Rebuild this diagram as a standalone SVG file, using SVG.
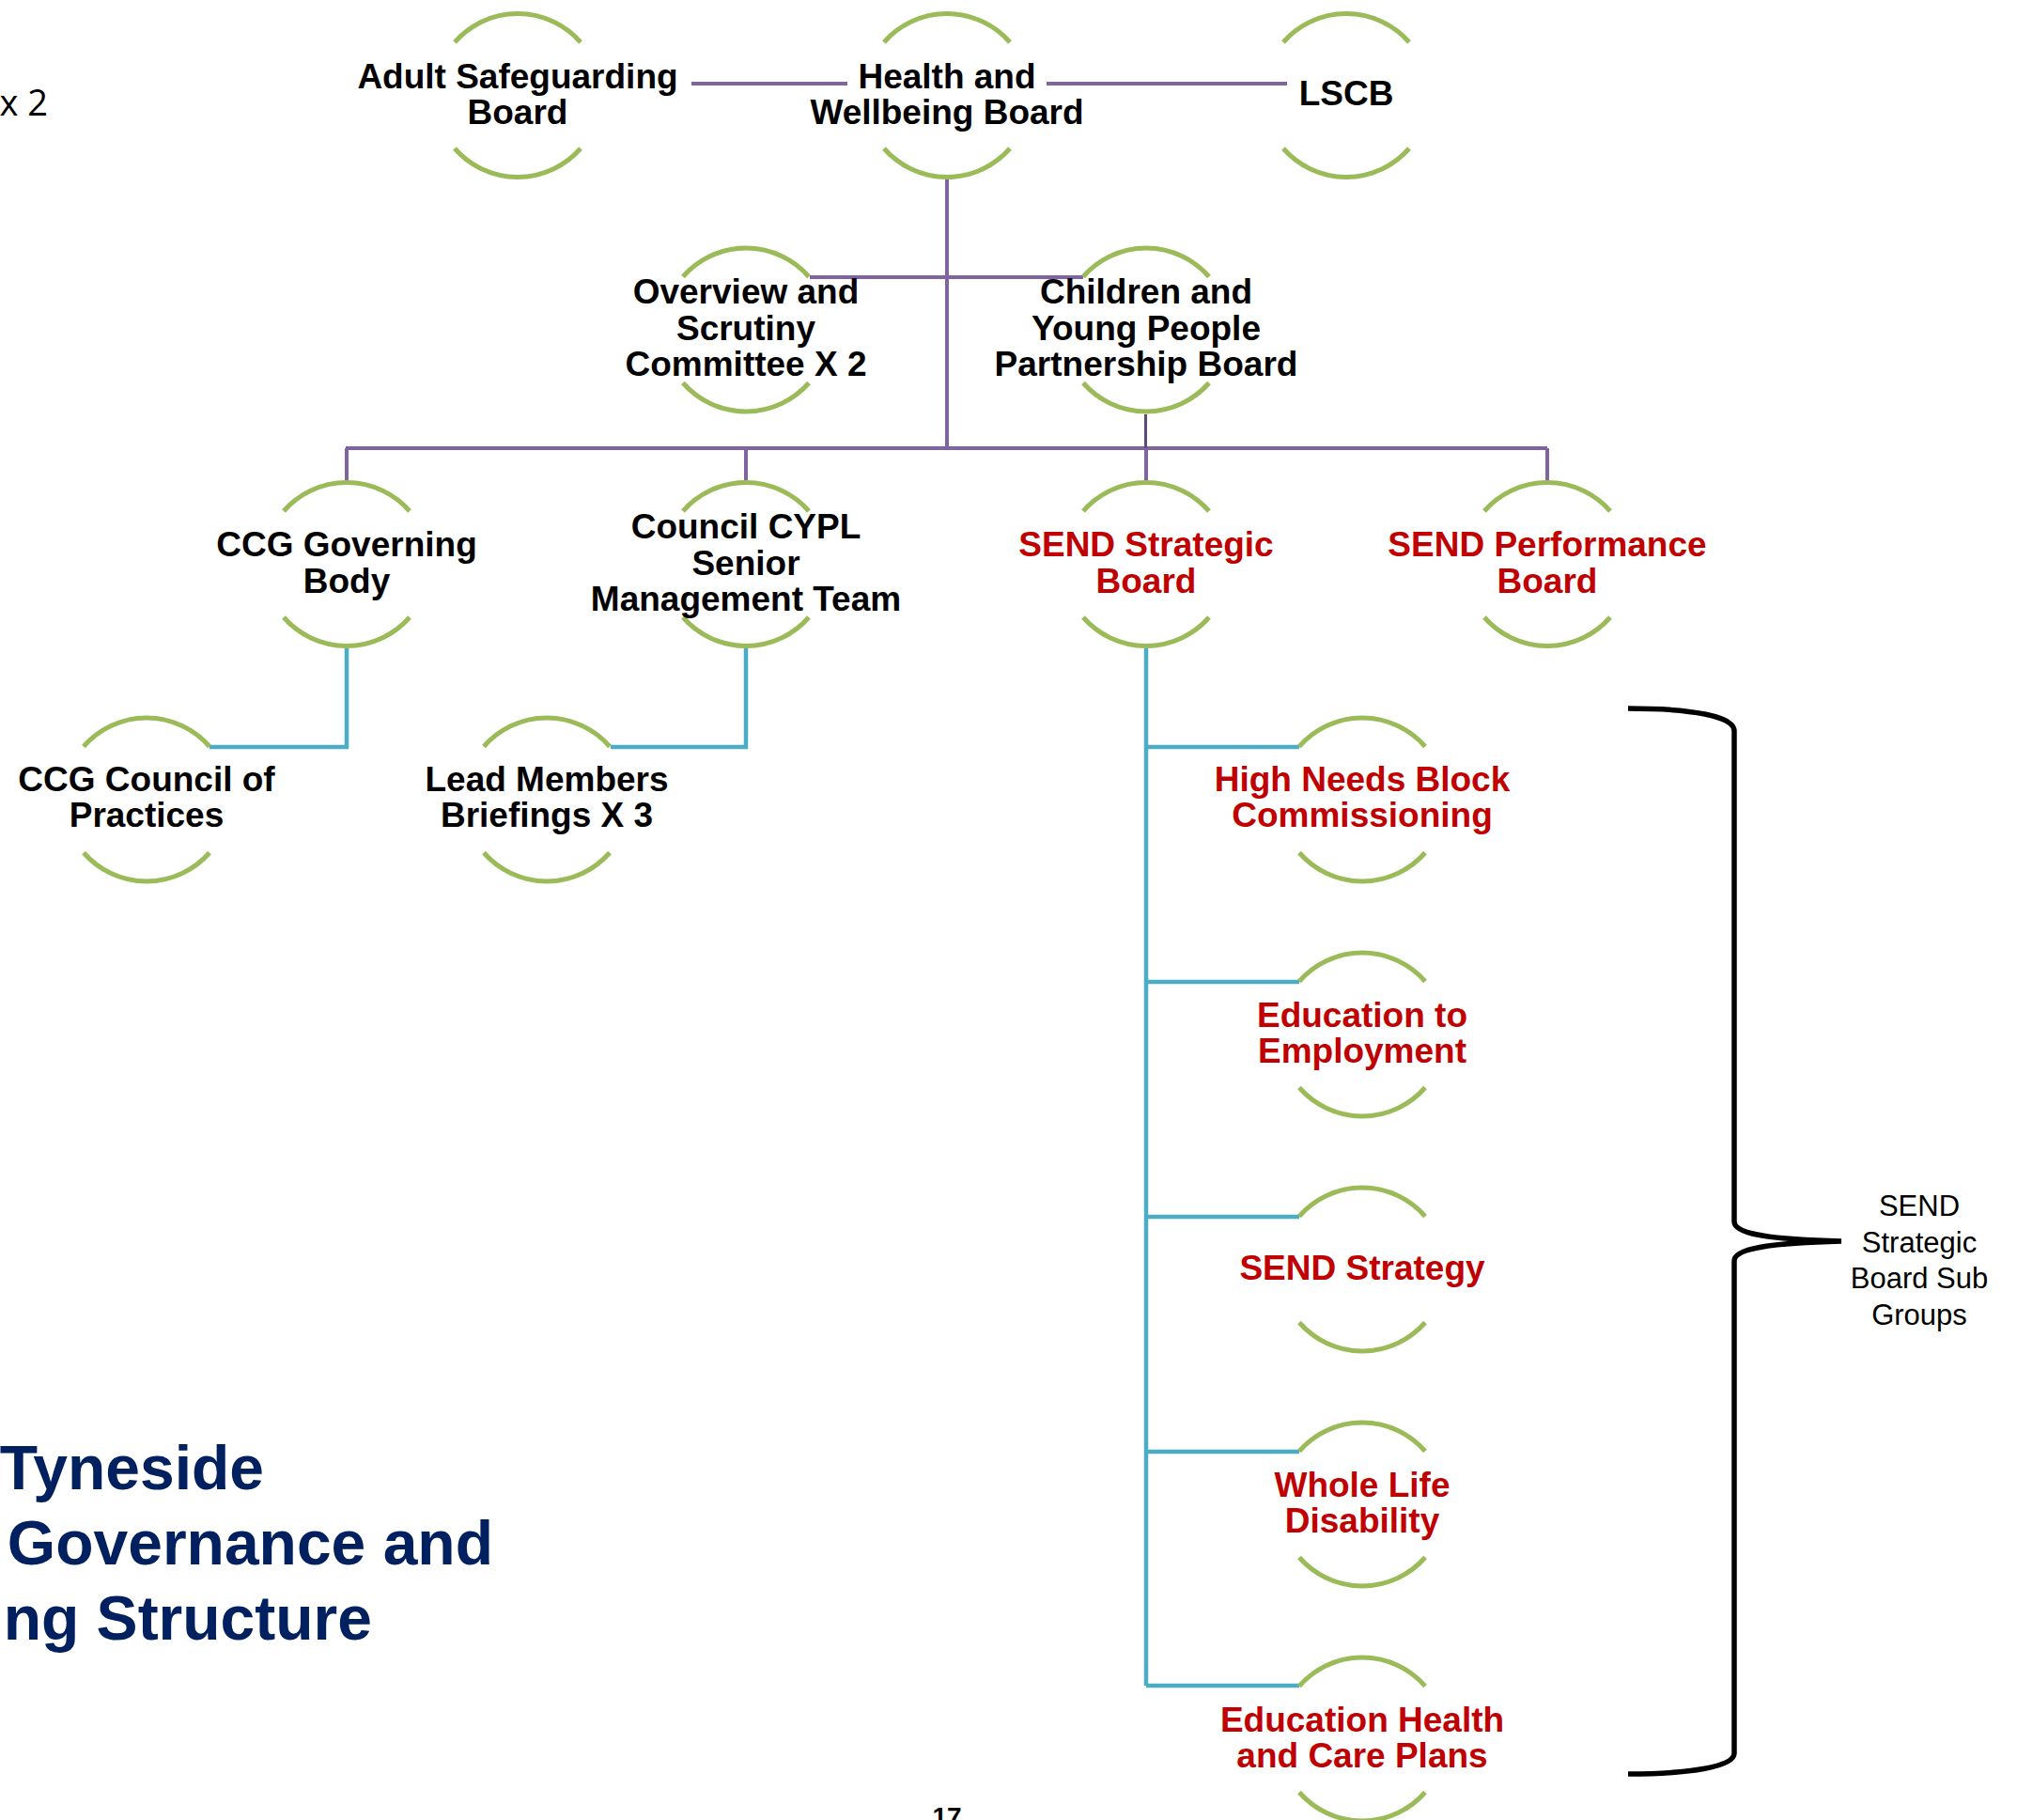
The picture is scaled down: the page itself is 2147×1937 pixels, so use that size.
<svg xmlns="http://www.w3.org/2000/svg" xmlns:xlink="http://www.w3.org/1999/xlink" width="2147" height="1937" viewBox="0 0 2147 1937">
<style>
.arc{fill:none;stroke:#9bbb59;stroke-width:5}
.t{font-family:"Liberation Sans",Arial,sans-serif;font-weight:bold;font-size:37px;text-anchor:middle;fill:#000}
.r{fill:#c00000}
.p{fill:none;stroke:#8064a2;stroke-width:4}
.pd{fill:none;stroke:#5f497a;stroke-width:3}
.b{fill:none;stroke:#4bacc6;stroke-width:4.5}
.title{font-family:"Liberation Sans",Arial,sans-serif;font-weight:bold;font-size:66px;fill:#002060;text-anchor:end}
.note{font-family:"Liberation Sans",Arial,sans-serif;font-size:31px;text-anchor:middle;fill:#000}
</style>
<defs>
<path id="arcs" d="M -67 -57 A 89 89 0 0 1 67 -57 M -67 56 A 89 89 0 0 0 67 56"/>
</defs>
<rect width="2147" height="1937" fill="#fff"/>

<g id="connectors">
<path class="p" d="M736 89 H902 M1114 89 H1370"/>
<path class="p" d="M1008 191 V477 M862 295 H1153 M368 477 H1647 M369 477 V513 M794 477 V513 M1220 477 V513 M1647 477 V513"/>
<path class="pd" d="M1219.5 441 V477"/>
<path class="b" d="M369 690 V795 H223 M794 690 V795 H650"/>
<path class="b" d="M1220 690 V1794 M1220 795 H1383 M1220 1045 H1383 M1220 1295 H1383 M1220 1545 H1383 M1220 1794 H1383"/>
</g>

<g id="bracket">
<path d="M1733 754 C1800 754 1846 762 1846 778 L1846 1300 C1846 1313 1880 1319 1960 1321 C1880 1323 1846 1329 1846 1342 L1846 1866 C1846 1880 1800 1888 1733 1888" fill="none" stroke="#000" stroke-width="5.5"/>
<text class="note"><tspan x="2043" y="1294">SEND</tspan><tspan x="2043" y="1332.5">Strategic</tspan><tspan x="2043" y="1371">Board Sub</tspan><tspan x="2043" y="1409.5">Groups</tspan></text>
</g>

<g id="adult-safeguarding">
<use xlink:href="#arcs" href="#arcs" x="551" y="102" class="arc"/>
<text class="t"><tspan x="551" y="94">Adult Safeguarding</tspan><tspan x="551" y="132">Board</tspan></text>
</g>
<g id="health-wellbeing">
<use xlink:href="#arcs" href="#arcs" x="1008" y="102" class="arc"/>
<text class="t"><tspan x="1008" y="94">Health and</tspan><tspan x="1008" y="132">Wellbeing Board</tspan></text>
</g>
<g id="lscb">
<use xlink:href="#arcs" href="#arcs" x="1433" y="102" class="arc"/>
<text class="t" x="1433" y="112">LSCB</text>
</g>

<g id="overview-scrutiny">
<use xlink:href="#arcs" href="#arcs" x="794" y="351.5" class="arc"/>
<text class="t"><tspan x="794" y="323">Overview and</tspan><tspan x="794" y="362">Scrutiny</tspan><tspan x="794" y="400">Committee X 2</tspan></text>
</g>
<g id="cypp-board">
<use xlink:href="#arcs" href="#arcs" x="1220" y="351.5" class="arc"/>
<text class="t"><tspan x="1220" y="323">Children and</tspan><tspan x="1220" y="362">Young People</tspan><tspan x="1220" y="400">Partnership Board</tspan></text>
</g>

<g id="ccg-governing">
<use xlink:href="#arcs" href="#arcs" x="369" y="601" class="arc"/>
<text class="t"><tspan x="369" y="592">CCG Governing</tspan><tspan x="369" y="631">Body</tspan></text>
</g>
<g id="council-cypl">
<use xlink:href="#arcs" href="#arcs" x="794" y="601" class="arc"/>
<text class="t"><tspan x="794" y="573">Council CYPL</tspan><tspan x="794" y="612">Senior</tspan><tspan x="794" y="650">Management Team</tspan></text>
</g>
<g id="send-strategic">
<use xlink:href="#arcs" href="#arcs" x="1220" y="601" class="arc"/>
<text class="t r"><tspan x="1220" y="592">SEND Strategic</tspan><tspan x="1220" y="631">Board</tspan></text>
</g>
<g id="send-performance">
<use xlink:href="#arcs" href="#arcs" x="1647" y="601" class="arc"/>
<text class="t r"><tspan x="1647" y="592">SEND Performance</tspan><tspan x="1647" y="631">Board</tspan></text>
</g>

<g id="ccg-council">
<use xlink:href="#arcs" href="#arcs" x="156" y="851.5" class="arc"/>
<text class="t"><tspan x="156" y="842">CCG Council of</tspan><tspan x="156" y="880">Practices</tspan></text>
</g>
<g id="lead-members">
<use xlink:href="#arcs" href="#arcs" x="582" y="851.5" class="arc"/>
<text class="t"><tspan x="582" y="842">Lead Members</tspan><tspan x="582" y="880">Briefings X 3</tspan></text>
</g>
<g id="high-needs">
<use xlink:href="#arcs" href="#arcs" x="1450" y="851.5" class="arc"/>
<text class="t r"><tspan x="1450" y="842">High Needs Block</tspan><tspan x="1450" y="880">Commissioning</tspan></text>
</g>
<g id="education-employment">
<use xlink:href="#arcs" href="#arcs" x="1450" y="1101.5" class="arc"/>
<text class="t r"><tspan x="1450" y="1093">Education to</tspan><tspan x="1450" y="1131">Employment</tspan></text>
</g>
<g id="send-strategy">
<use xlink:href="#arcs" href="#arcs" x="1450" y="1351.5" class="arc"/>
<text class="t r" x="1450" y="1362">SEND Strategy</text>
</g>
<g id="whole-life">
<use xlink:href="#arcs" href="#arcs" x="1450" y="1601.5" class="arc"/>
<text class="t r"><tspan x="1450" y="1593">Whole Life</tspan><tspan x="1450" y="1631">Disability</tspan></text>
</g>
<g id="ehcp">
<use xlink:href="#arcs" href="#arcs" x="1450" y="1851.5" class="arc"/>
<text class="t r"><tspan x="1450" y="1843">Education Health</tspan><tspan x="1450" y="1881">and Care Plans</tspan></text>
</g>

<g id="title">
<text class="title" x="281" y="1585">Tyneside</text>
<text class="title" x="525" y="1665">Governance and</text>
<text class="title" x="396" y="1745">ng Structure</text>
</g>
<text x="51" y="123" text-anchor="end" font-family="'Open Sans',sans-serif" font-size="38" fill="#000">x 2</text>
<text x="1008" y="1943" text-anchor="middle" font-family="'Liberation Sans',Arial,sans-serif" font-weight="bold" font-size="28" fill="#000">17</text>
</svg>
